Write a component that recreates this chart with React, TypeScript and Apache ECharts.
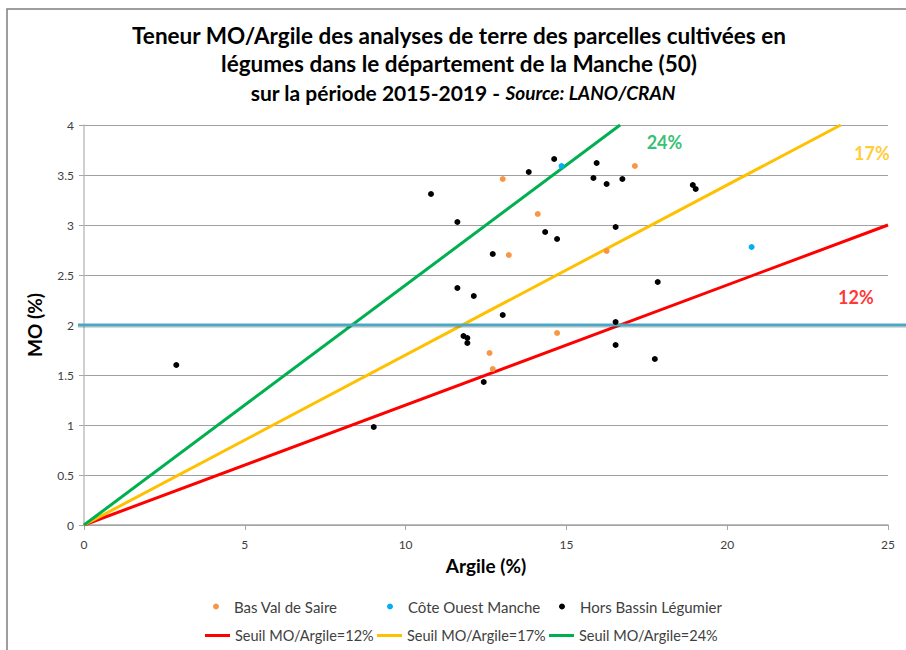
import React, { useEffect, useRef } from "react";
import * as echarts from "echarts";

// Data: [Argile %, MO %]
const basValDeSaire: number[][] = [
  [13.02, 3.46], [17.13, 3.59], [14.11, 3.11], [13.21, 2.70],
  [16.25, 2.74], [14.71, 1.92], [12.61, 1.72], [12.71, 1.56],
];
const coteOuestManche: number[][] = [
  [14.85, 3.59], [20.76, 2.78],
];
const horsBassin: number[][] = [
  [10.79, 3.31], [11.61, 3.03], [13.83, 3.53], [14.62, 3.66], [15.94, 3.62],
  [15.84, 3.47], [16.25, 3.41], [16.74, 3.46], [18.93, 3.40], [19.02, 3.36],
  [14.34, 2.93], [14.71, 2.86], [16.53, 2.98], [12.71, 2.71], [11.61, 2.37],
  [12.12, 2.29], [17.84, 2.43], [13.02, 2.10], [16.53, 2.03], [11.80, 1.89],
  [11.92, 1.87], [11.92, 1.82], [12.43, 1.43], [16.53, 1.80], [17.75, 1.66],
  [2.87, 1.60], [9.01, 0.98],
];
const seuil12: number[][] = [[0, 0], [25, 3]];
const seuil17: number[][] = [[0, 0], [23.53, 4]];
const seuil24: number[][] = [[0, 0], [16.67, 4]];
const seuilLabels = [
  { name: "24%", value: [18.05, 3.83], color: "#00b050" },
  { name: "17%", value: [24.5, 3.72], color: "#ffc000" },
  { name: "12%", value: [24.0, 2.28], color: "#ff0000" },
];
const referenceMO = 2;

const FONT = "Lato, 'Liberation Sans', sans-serif";

export default function App() {
  const ref = useRef<HTMLDivElement>(null);
  useEffect(() => {
    document.body.style.margin = "0";
    if (!ref.current) return;
    const chart = echarts.init(ref.current, null, { renderer: "svg" });
    const legendText = { color: "#404040", fontSize: 15, fontFamily: FONT, padding: [0, 0, 0, 10] };
    const lineLegendText = { color: "#404040", fontSize: 14.5, fontFamily: FONT };
    const dotLegend = { top: 599, padding: 0, itemWidth: 6, itemHeight: 6, icon: "circle", textStyle: legendText };
    const lineLegend = { top: 628, padding: 0, itemWidth: 25, itemHeight: 3, icon: "rect", textStyle: lineLegendText };
    const option: any = {
      animation: false,
      backgroundColor: "#ffffff",
      grid: { left: 84, right: 18, top: 125, bottom: 125, containLabel: false },
      xAxis: {
        type: "value",
        min: 0,
        max: 25,
        interval: 5,
        name: "Argile (%)",
        nameLocation: "middle",
        nameGap: 31,
        nameTextStyle: { fontSize: 19, fontWeight: "bold", color: "#000", fontFamily: FONT },
        axisLine: { show: true, lineStyle: { color: "#a6a6a6", width: 1.5 } },
        axisTick: { show: true, length: 5, lineStyle: { color: "#a6a6a6" } },
        axisLabel: { color: "#404040", fontSize: 12, margin: 13, fontFamily: FONT },
        splitLine: { show: false },
      },
      yAxis: {
        type: "value",
        min: 0,
        max: 4,
        interval: 0.5,
        name: "MO (%)",
        nameLocation: "middle",
        nameGap: 40,
        nameTextStyle: { fontSize: 19, fontWeight: "bold", color: "#000", fontFamily: FONT },
        axisLine: { show: true, lineStyle: { color: "#bfbfbf", width: 1.5 } },
        axisTick: { show: true, length: 5, lineStyle: { color: "#a6a6a6" } },
        axisLabel: { color: "#404040", fontSize: 12, margin: 10, fontFamily: FONT },
        splitLine: { show: true, lineStyle: { color: "#a0a0a0", width: 1 } },
      },
      legend: [
        { ...dotLegend, data: ["Bas Val de Saire"], left: 213 },
        { ...dotLegend, data: ["Côte Ouest Manche"], left: 387 },
        { ...dotLegend, data: ["Hors Bassin Légumier"], left: 559 },
        { ...lineLegend, data: ["Seuil MO/Argile=12%"], left: 205 },
        { ...lineLegend, data: ["Seuil MO/Argile=17%"], left: 377 },
        { ...lineLegend, data: ["Seuil MO/Argile=24%"], left: 549 },
      ],
      series: [
        {
          name: "Seuil MO/Argile=12%", type: "line", data: seuil12, symbol: "none",
          lineStyle: { color: "#ff0000", width: 3 }, itemStyle: { color: "#ff0000" }, z: 2,
        },
        {
          name: "Seuil MO/Argile=17%", type: "line", data: seuil17, symbol: "none",
          lineStyle: { color: "#ffc000", width: 3 }, itemStyle: { color: "#ffc000" }, z: 2,
        },
        {
          name: "Seuil MO/Argile=24%", type: "line", data: seuil24, symbol: "none",
          lineStyle: { color: "#00b050", width: 3 }, itemStyle: { color: "#00b050" }, z: 2,
        },
        {
          name: "Bas Val de Saire", type: "scatter", data: basValDeSaire, symbolSize: 6,
          itemStyle: { color: "#f79646", opacity: 1 }, z: 4,
        },
        {
          name: "Côte Ouest Manche", type: "scatter", data: coteOuestManche, symbolSize: 6,
          itemStyle: { color: "#00b0f0", opacity: 1 }, z: 4,
        },
        {
          name: "Hors Bassin Légumier", type: "scatter", data: horsBassin, symbolSize: 6,
          itemStyle: { color: "#000000", opacity: 1 }, z: 4,
        },
        {
          name: "labels", type: "scatter", symbolSize: 0, z: 5,
          data: seuilLabels.map((l) => ({
            name: l.name, value: l.value,
            label: { show: true, position: "inside", formatter: "{b}", color: l.color, fontSize: 18, fontWeight: "bold", fontFamily: FONT },
          })),
          silent: true,
        },
      ],
    };
    chart.setOption(option);

    const p0 = chart.convertToPixel({ gridIndex: 0 }, [0, referenceMO]) as number[];
    const w = chart.getWidth();
    const titleStyle = { fontSize: 22.5, fontWeight: "bold", fill: "#000", fontFamily: FONT };
    chart.setOption({
      graphic: [
        { type: "rect", shape: { x: 7, y: 9, width: 1000, height: 1000 }, style: { fill: "none", stroke: "#7f7f7f", lineWidth: 1.5 }, silent: true, z: 0 },
        { type: "line", shape: { x1: p0[0] - 6, y1: p0[1] + 1.5, x2: w, y2: p0[1] + 1.5 }, style: { stroke: "rgba(0,0,0,0.15)", lineWidth: 3 }, silent: true, z: 3 },
        { type: "line", shape: { x1: p0[0] - 6, y1: p0[1], x2: w, y2: p0[1] }, style: { stroke: "#4aa8c4", lineWidth: 3 }, silent: true, z: 3 },
        { type: "text", x: 459, y: 35, style: { ...titleStyle, text: "Teneur MO/Argile des analyses de terre des parcelles cultivées en", align: "center", verticalAlign: "middle" } },
        { type: "text", x: 459, y: 63, style: { ...titleStyle, text: "légumes dans le département de la Manche (50)", align: "center", verticalAlign: "middle" } },
        {
          type: "text", x: 463, y: 92,
          style: {
            text: "{a|sur la période 2015-2019 - }{b|Source: LANO/CRAN}",
            align: "center", verticalAlign: "middle",
            rich: {
              a: { fontSize: 21, fontWeight: "bold", fill: "#000", color: "#000", fontFamily: FONT },
              b: { fontSize: 19, fontWeight: "bold", fontStyle: "italic", fill: "#000", color: "#000", fontFamily: FONT },
            },
          },
        },
      ],
    });
    return () => chart.dispose();
  }, []);
  return <div ref={ref} style={{ width: 906, height: 650 }} />;
}
